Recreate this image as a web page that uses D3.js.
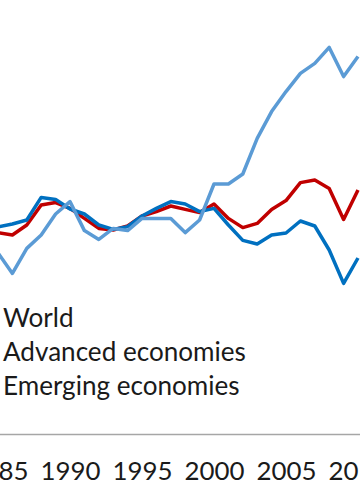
<!DOCTYPE html>
<html>
<head>
<meta charset="utf-8">
<script src="https://cdn.jsdelivr.net/npm/d3@7"></script>
<style>
  html, body { margin: 0; padding: 0; background: #fff; }
  svg { display: block; }
</style>
</head>
<body>
<svg id="chart" width="360" height="504"></svg>
<script>
const years = d3.range(1985, 2011);
const world = [96.5, 98, 100, 111.3, 110.3, 105.5, 103, 97.5, 95.3, 96.7, 102, 105.8, 109.2, 108, 104.2, 105.8, 97.5, 89.8, 88, 92.5, 93.5, 99.5, 97, 85, 68.3, 81];
const advanced = [93.7, 92.5, 97.5, 107.5, 108.7, 105.8, 100.8, 95.8, 95, 97, 102, 104.2, 107, 105.3, 103.7, 108, 100.8, 96.2, 98.3, 105.3, 109.7, 118.7, 120, 115.8, 100.3, 115];
const emerging = [83.5, 73.3, 85.8, 92.5, 103, 109.2, 94.7, 90.3, 95.8, 94.7, 100.8, 100.8, 100.8, 93.7, 100, 118, 118, 123, 140.8, 154.2, 164.2, 173.3, 178.3, 186.3, 171.7, 181.7];
const tickYears = [1985, 1990, 1995, 2000, 2005, 2010];
const legendLabels = ["World", "Advanced economies", "Emerging economies"];

const series = [
  { name: "Advanced economies", values: advanced, color: "#C00000" },
  { name: "World", values: world, color: "#0070C0" },
  { name: "Emerging economies", values: emerging, color: "#5B9BD5" }
];

const svg = d3.select("#chart");
const font = "Lato, 'Open Sans', sans-serif";

const x = d3.scaleLinear().domain([1984, 2011]).range([-16.4, 372.4]);
const y = d3.scaleLinear().domain([60, 200]).range([300, 20]);

const line = d3.line().x((d, i) => x(years[i])).y(d => y(d));

svg.append("g").selectAll("path").data(series).join("path")
  .attr("d", s => line(s.values))
  .attr("fill", "none")
  .attr("stroke", s => s.color)
  .attr("stroke-width", 3.5)
  .attr("stroke-linejoin", "round");

// measure helper for fitting font sizes
function fitSize(text, target) {
  const t = svg.append("text").attr("font-family", font).attr("font-size", 100).text(text);
  const w = t.node().getComputedTextLength();
  t.remove();
  return 100 * target / w;
}

const axisSize = fitSize("1990", 60);
const legendSize = fitSize("Advanced economies", 243);

// axis
const axisG = svg.append("g").attr("transform", "translate(0,434)")
  .call(d3.axisBottom(x).tickValues(tickYears).tickSize(0).tickFormat(d3.format("d")));
axisG.select(".domain").attr("stroke", "#A6A6A6").attr("stroke-width", 1.5);
axisG.selectAll("text")
  .attr("y", 46).attr("dy", 0)
  .attr("font-family", font).attr("font-size", axisSize)
  .attr("fill", "#1a1a1a");

// legend (markers lie outside the cropped view)
svg.append("g").selectAll("text").data(legendLabels).join("text")
  .attr("x", 3)
  .attr("y", (d, i) => 327 + i * 34)
  .attr("font-family", font)
  .attr("font-size", legendSize)
  .attr("fill", "#1a1a1a")
  .text(d => d);
</script>
</body>
</html>
